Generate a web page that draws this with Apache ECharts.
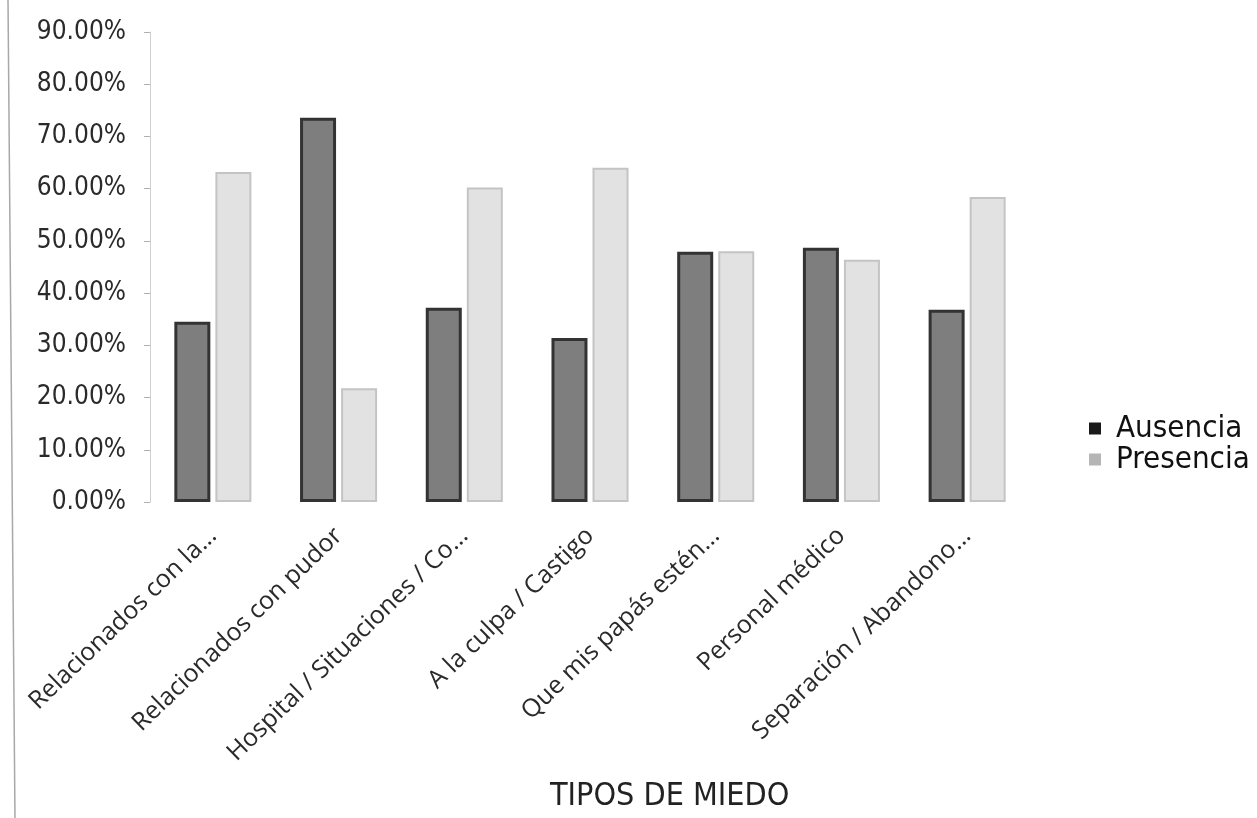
<!DOCTYPE html>
<html>
<head>
<meta charset="utf-8">
<script src="https://cdn.jsdelivr.net/npm/echarts@6/dist/echarts.min.js"></script>
<style>
html,body{margin:0;padding:0;background:#fff;}
#chart{width:1257px;height:818px;}
</style>
</head>
<body>
<div id="chart"></div>
<script>
const categories = [
  'Relacionados con la...',
  'Relacionados con pudor',
  'Hospital / Situaciones / Co...',
  'A la culpa / Castigo',
  'Que mis papás estén...',
  'Personal médico',
  'Separación / Abandono...'
];
const ausencia  = [34.5, 73.6, 37.2, 31.4, 47.9, 48.7, 36.8];
const presencia = [63.2, 21.8, 60.2, 64.0, 48.0, 46.4, 58.4];
const yTicks = [0, 10, 20, 30, 40, 50, 60, 70, 80, 90];
const seriesNames = ['Ausencia', 'Presencia'];
const axisTitle = 'TIPOS DE MIEDO';

const condensed = '"DejaVu Sans Condensed", "DejaVu Sans", sans-serif';

const chart = echarts.init(document.getElementById('chart'), null, {renderer: 'canvas'});
chart.setOption({
  backgroundColor: '#ffffff',
  animation: false,
  graphic: [{
    type: 'line',
    silent: true,
    shape: {x1: 8, y1: 0, x2: 15, y2: 818},
    style: {stroke: '#a8a8a8', lineWidth: 1.5}
  }],
  title: {
    text: axisTitle,
    left: 545,
    top: 776,
    textStyle: {fontFamily: condensed, fontSize: 32, fontWeight: 'normal', color: '#222'}
  },
  legend: {
    orient: 'vertical',
    left: 1084,
    top: 408,
    itemWidth: 12,
    itemHeight: 12,
    itemGap: 0,
    icon: 'rect',
    textStyle: {fontFamily: condensed, fontSize: 31, color: '#111', lineHeight: 31, padding: [0, 0, 0, 10]},
    data: [
      {name: seriesNames[0], itemStyle: {color: '#1a1a1a', borderWidth: 0}},
      {name: seriesNames[1], itemStyle: {color: '#b5b5b5', borderWidth: 0}}
    ]
  },
  grid: {left: 150, top: 32, width: 880, height: 470, containLabel: false},
  xAxis: {
    type: 'category',
    data: categories,
    axisLine: {show: false},
    axisTick: {show: false},
    axisLabel: {
      rotate: 44,
      margin: 30,
      interval: 0,
      fontFamily: '"Open Sans", sans-serif',
      fontSize: 25,
      color: '#2a2a2a'
    }
  },
  yAxis: {
    type: 'value',
    min: yTicks[0],
    max: yTicks[yTicks.length - 1],
    interval: 10,
    axisLine: {show: true, lineStyle: {color: '#d0d0d0', width: 1}},
    axisTick: {show: true, inside: false, length: 6, lineStyle: {color: '#b0b0b0'}},
    splitLine: {show: false},
    axisLabel: {
      margin: 24,
      fontFamily: condensed,
      fontSize: 26,
      color: '#2a2a2a',
      formatter: v => v.toFixed(2) + '%'
    }
  },
  series: [
    {
      name: seriesNames[0],
      type: 'bar',
      data: ausencia,
      barWidth: 36,
      barGap: '14%',
      itemStyle: {color: '#7e7e7e', borderColor: '#333333', borderWidth: 3}
    },
    {
      name: seriesNames[1],
      type: 'bar',
      data: presencia,
      barWidth: 36,
      itemStyle: {color: '#e2e2e2', borderColor: '#c4c4c4', borderWidth: 2}
    }
  ]
});
</script>
</body>
</html>
